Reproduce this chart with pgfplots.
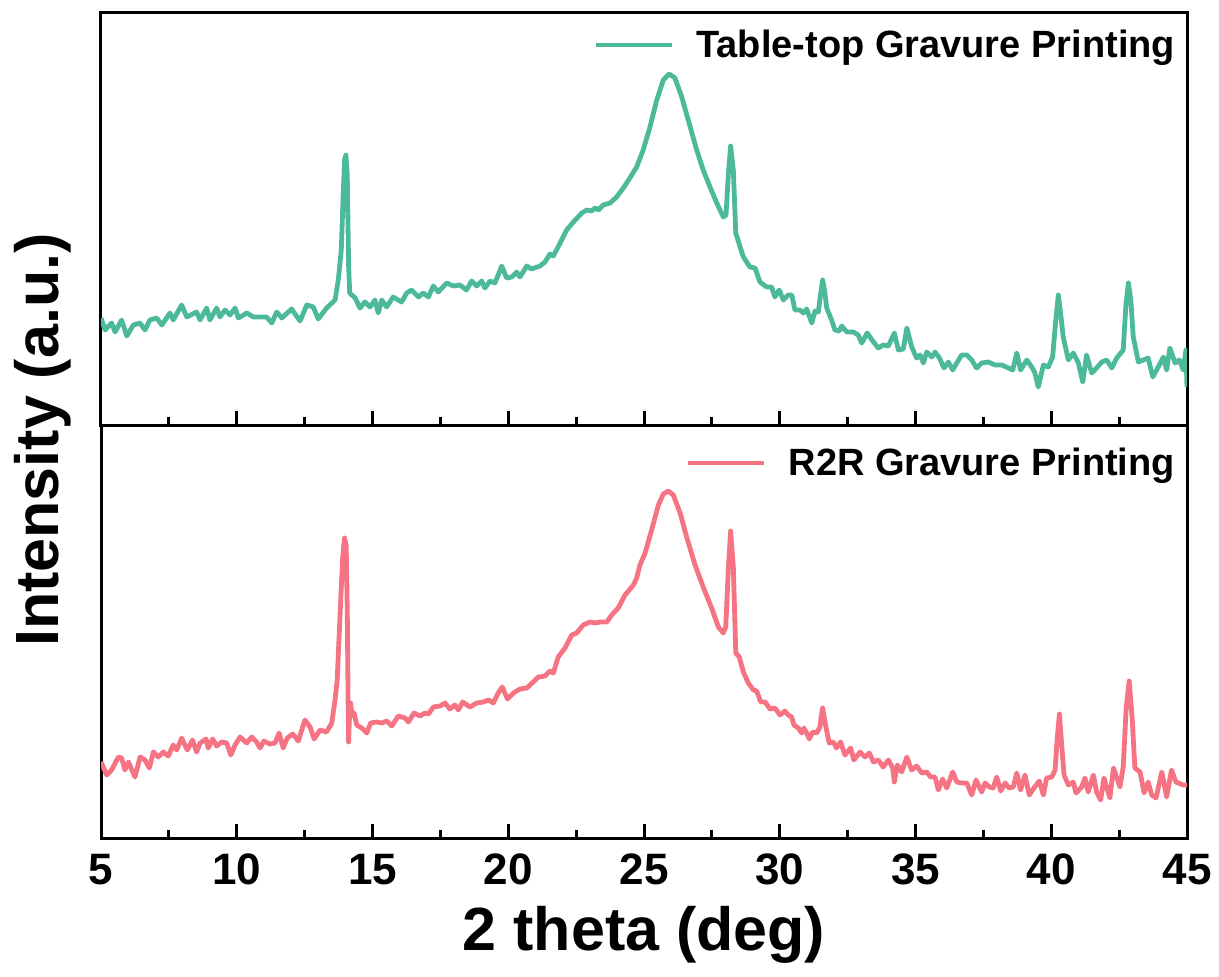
\documentclass[border=0pt]{standalone}
\usepackage{fontspec}
\setmainfont{Liberation Sans}
\usepackage{pgfplots}
\pgfplotsset{compat=1.18}
\definecolor{teal1}{RGB}{77,185,155}
\definecolor{pink1}{RGB}{245,115,130}
\pgfplotsset{
  xrdaxis/.style={
    scale only axis, width=543pt, xmin=5, xmax=45,
    xtick={5,10,...,45}, minor x tick num=1,
    xtick pos=lower, ytick=\empty, tick align=inside,
    major tick length=7pt, minor tick length=4pt,
    axis line style={line width=1.5pt}, every tick/.style={line width=1.5pt, black},
    /pgf/number format/assume math mode=true,
    ticklabel style={font=\bfseries\fontsize{22}{22}\selectfont},
    xticklabel style={yshift=-4.5pt},
    legend style={draw=none, fill=none, font=\bfseries\fontsize{19}{19}\selectfont, inner sep=0pt},
    legend image code/.code={\draw[#1, line width=2.3pt] (0pt,0pt) -- (38pt,0pt); \path (47pt,0pt);},
    legend cell align=left,
  }
}
\begin{document}
\begin{tikzpicture}
\useasboundingbox (-50.5pt,-69pt) rectangle (559pt,419pt);
% bottom panel
\begin{axis}[xrdaxis, at={(0pt,0pt)}, anchor=south west, height=206.5pt, ymin=0, ymax=413,
  legend style={at={(0.993,0.908)}, anchor=east}]
\addplot[pink1, line width=2.4pt, line join=round] table {
5.00 76
5.21 63
5.39 68
5.64 81
5.76 80
5.88 68
6.01 76
6.25 61
6.44 81
6.62 78
6.78 70
6.93 86
7.11 81
7.29 86
7.48 82
7.66 93
7.79 88
7.97 100
8.18 88
8.37 98
8.52 86
8.65 95
8.87 99
8.95 90
9.11 99
9.26 92
9.45 96
9.63 95
9.78 83
9.94 93
10.12 101
10.37 95
10.55 101
10.73 96
10.86 90
11.00 97
11.22 94
11.41 95
11.56 105
11.71 90
11.86 100
12.06 104
12.27 97
12.51 118
12.70 111
12.85 99
13.07 108
13.31 106
13.50 115
13.62 138
13.70 158
13.80 220
13.90 280
13.97 300
14.03 292
14.07 230
14.10 140
14.12 96
14.15 120
14.19 135
14.25 122
14.32 125
14.42 113
14.60 110
14.79 105
14.93 115
15.15 116
15.34 115
15.52 117
15.71 112
15.95 122
16.20 120
16.32 116
16.53 125
16.75 122
16.93 125
17.06 124
17.24 131
17.49 132
17.67 135
17.85 129
18.04 133
18.16 128
18.32 136
18.59 131
18.84 135
19.08 136
19.27 138
19.45 135
19.63 145
19.78 151
19.97 139
20.19 145
20.43 149
20.68 150
20.92 156
21.11 161
21.35 162
21.54 167
21.66 165
21.84 181
22.09 190
22.34 203
22.52 205
22.76 213
23.01 216
23.20 215
23.38 216
23.63 216
23.81 223
24.05 230
24.30 243
24.61 253
24.73 260
24.85 273
25.04 285
25.28 308
25.53 333
25.71 344
25.90 347
26.08 343
26.33 325
26.57 301
26.88 273
27.18 251
27.49 230
27.74 211
27.92 205
28.01 211
28.11 271
28.19 307
28.29 271
28.38 185
28.51 181
28.66 166
28.84 155
29.03 148
29.15 147
29.30 136
29.46 136
29.64 129
29.82 130
30.01 123
30.19 127
30.31 123
30.44 121
30.52 113
30.68 110
30.81 105
30.89 110
30.99 105
31.09 99
31.21 106
31.36 105
31.48 111
31.52 120
31.58 130
31.64 120
31.70 111
31.82 95
31.97 96
32.09 90
32.24 96
32.40 83
32.61 90
32.73 78
32.96 86
33.14 81
33.30 85
33.45 76
33.63 78
33.81 71
34.00 78
34.16 70
34.22 56
34.33 73
34.49 66
34.68 81
34.86 68
35.04 72
35.23 65
35.41 66
35.56 61
35.72 61
35.84 48
36.00 59
36.15 50
36.37 66
36.52 56
36.70 55
36.89 55
37.07 43
37.23 58
37.44 46
37.56 55
37.72 51
37.86 50
37.99 61
38.14 47
38.30 55
38.45 50
38.60 51
38.73 65
38.87 48
39.03 63
39.19 43
39.36 50
39.56 57
39.71 43
39.83 60
40.02 61
40.14 68
40.22 100
40.30 124
40.38 95
40.47 63
40.63 53
40.81 56
40.91 45
41.12 51
41.24 60
41.36 46
41.55 63
41.67 46
41.82 38
41.94 60
42.16 40
42.29 70
42.53 51
42.65 71
42.76 130
42.87 157
42.98 120
43.08 70
43.27 66
43.42 45
43.57 56
43.70 43
43.86 40
44.07 66
44.25 41
44.43 68
44.59 56
44.86 53
45.00 53
};
\addlegendentry{R2R Gravure Printing}
\end{axis}
% top panel
\begin{axis}[xrdaxis, at={(0pt,206.5pt)}, anchor=south west, height=206pt, ymin=0, ymax=412,
  xticklabels=\empty,
  legend style={at={(0.993,0.922)}, anchor=east}]
\addplot[teal1, line width=2.4pt, line join=round] table {
5.00 107
5.15 95
5.39 102
5.52 93
5.76 105
5.95 89
6.19 100
6.44 102
6.62 95
6.80 105
7.05 107
7.24 100
7.54 112
7.66 105
7.97 120
8.16 108
8.52 113
8.65 105
8.89 117
9.01 105
9.26 117
9.38 108
9.57 115
9.75 110
9.94 117
10.06 107
10.37 112
10.61 108
11.10 108
11.29 102
11.47 113
11.66 107
12.02 116
12.33 104
12.58 120
12.82 118
13.00 106
13.31 117
13.62 125
13.74 145
13.85 175
13.92 230
13.97 265
14.02 270
14.07 250
14.12 160
14.16 132
14.36 127
14.54 117
14.72 123
14.91 118
15.09 125
15.21 112
15.34 125
15.52 118
15.76 128
16.07 123
16.26 132
16.44 135
16.69 128
16.87 132
17.06 128
17.24 139
17.42 133
17.73 142
17.98 139
18.22 140
18.46 135
18.65 144
18.84 139
19.02 144
19.14 137
19.33 144
19.51 142
19.76 159
19.94 147
20.13 148
20.31 153
20.43 148
20.68 159
20.86 156
21.17 159
21.35 163
21.54 171
21.66 169
21.91 182
22.15 195
22.40 203
22.71 212
22.89 215
23.07 214
23.20 217
23.32 215
23.50 220
23.75 222
23.99 228
24.24 237
24.48 247
24.73 258
24.97 275
25.22 298
25.47 325
25.71 345
25.92 351
26.14 347
26.39 328
26.63 305
26.94 275
27.18 255
27.43 238
27.68 222
27.92 208
28.02 210
28.11 252
28.19 279
28.29 255
28.38 192
28.54 178
28.66 168
28.90 158
29.09 157
29.27 143
29.52 138
29.70 138
29.82 128
29.98 135
30.13 125
30.31 130
30.44 130
30.56 115
30.74 115
30.87 112
30.99 116
31.18 102
31.30 114
31.42 113
31.50 130
31.58 145
31.66 133
31.73 117
31.91 105
32.03 95
32.19 94
32.28 99
32.47 93
32.71 93
32.89 90
33.02 82
33.22 92
33.45 83
33.63 77
33.81 80
34.00 79
34.22 92
34.37 75
34.55 76
34.68 97
34.86 78
35.04 67
35.17 70
35.29 62
35.41 73
35.60 68
35.72 73
35.88 67
36.05 57
36.21 63
36.37 55
36.52 62
36.70 70
36.89 70
37.07 65
37.25 57
37.44 62
37.68 63
37.93 60
38.17 60
38.42 57
38.58 55
38.73 72
38.87 55
39.10 65
39.28 58
39.40 52
39.52 38
39.71 60
39.89 58
40.05 68
40.15 100
40.26 130
40.36 108
40.44 88
40.63 65
40.81 72
41.00 62
41.16 43
41.30 70
41.49 52
41.67 57
41.86 63
42.04 65
42.23 57
42.41 67
42.65 75
42.75 120
42.84 142
42.93 125
43.02 88
43.21 63
43.39 65
43.57 67
43.74 48
43.94 58
44.13 68
44.25 55
44.37 77
44.56 62
44.72 65
44.86 55
44.96 75
45.00 38
};
\addlegendentry{Table-top Gravure Printing}
\end{axis}
\node[rotate=90, font=\bfseries\fontsize{30.5}{30.5}\selectfont] at (-29pt,199pt) {Intensity (a.u.)};
\node[font=\bfseries\fontsize{30.5}{30.5}\selectfont] at (271.5pt,-48.5pt) {2 theta (deg)};
\end{tikzpicture}
\end{document}
